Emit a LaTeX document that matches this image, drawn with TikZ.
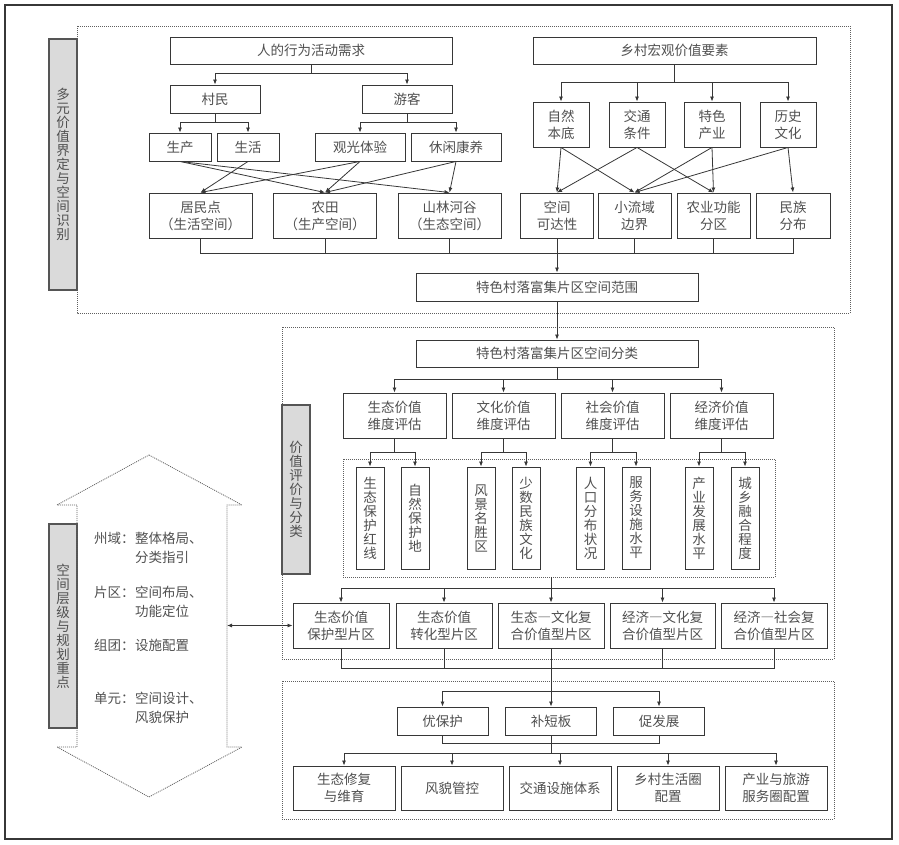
\documentclass[tikz,border=0pt]{standalone}
\usepackage{fontspec}
\setmainfont{Noto Sans CJK SC}
\usepackage{tikz}
\usetikzlibrary{arrows.meta}

\definecolor{txtgray}{RGB}{80,80,80}
\definecolor{linegray}{RGB}{55,55,55}
\definecolor{dotgray}{RGB}{95,95,95}
\definecolor{labelfill}{RGB}{218,218,218}

\newcommand{\cnsize}{\fontsize{13.5}{17}\selectfont}
\newcommand{\cnstack}{\fontsize{13.5}{14}\selectfont}
\newcommand{\cndash}{{\addfontfeature{RawFeature=+fwid}—}}

\tikzset{
  box/.style={draw=linegray,line width=0.9pt,fill=white,text=txtgray,font=\cnsize,align=center,inner sep=0pt},
  vbox/.style={box,font=\cnstack,minimum width=28pt,minimum height=102pt},
  graylabel/.style={draw=linegray!85,line width=1.1pt,fill=labelfill,text=txtgray,font=\cnstack,align=center,inner sep=0pt,minimum width=28pt},
  dotframe/.style={draw=dotgray,line width=0.8pt,dash pattern=on 1pt off 1pt},
  link/.style={draw=linegray,line width=0.8pt},
  arr/.style={link,-{Latex[length=5pt,width=4pt]}},
  dblarr/.style={link,{Latex[length=5pt,width=4pt]}-{Latex[length=5pt,width=4pt]}},
  lefttxt/.style={text=txtgray,font=\fontsize{13.5}{19}\selectfont,inner sep=0pt,align=left},
}

\begin{document}
\begin{tikzpicture}[x=1pt,y=-1pt]
  \useasboundingbox (0,0) rectangle (899,845);
  %outer frame
  \draw[draw=linegray,line width=1.1pt] (5,5) rectangle (892,839);

  %dotted frames
  \draw[dotframe] (77,26) rectangle (850,313);
  \draw[dotframe] (282,327) rectangle (834,659);
  \draw[dotframe] (282,681) rectangle (834,819);
  \node[dotframe,name=indicators,at={(559,518)},minimum width=432pt,minimum height=118pt,inner sep=0pt]{};

  %side labels
  \node[graylabel,name=lab1,at={(63,164.5)},minimum height=251pt]{多\\元\\价\\值\\界\\定\\与\\空\\间\\识\\别};
  \node[graylabel,name=lab2,at={(296,489.5)},minimum height=169pt]{价\\值\\评\\价\\与\\分\\类};
  \node[graylabel,name=lab3,at={(63,626)},minimum height=204pt]{空\\间\\层\\级\\与\\规\\划\\重\\点};

  %top left
  \node[box,name=demand,at={(311,50.5)},minimum width=282pt,minimum height=27pt]{人的行为活动需求};
  \node[box,name=villager,at={(215,99)},minimum width=90pt,minimum height=28pt]{村民};
  \node[box,name=tourist,at={(407,99)},minimum width=90pt,minimum height=28pt]{游客};
  \node[box,name=prod,at={(180,147)},minimum width=62pt,minimum height=28pt]{生产};
  \node[box,name=life,at={(248,147)},minimum width=62pt,minimum height=28pt]{生活};
  \node[box,name=sight,at={(360,147)},minimum width=90pt,minimum height=28pt]{观光体验};
  \node[box,name=leisure,at={(456,147)},minimum width=90pt,minimum height=28pt]{休闲康养};
  \node[box,name=settle,at={(200.5,215.5)},minimum width=103pt,minimum height=45pt]{居民点\\（生活空间）};
  \node[box,name=farm,at={(325,215.5)},minimum width=103pt,minimum height=45pt]{农田\\（生产空间）};
  \node[box,name=forest,at={(449.5,215.5)},minimum width=103pt,minimum height=45pt]{山林河谷\\（生态空间）};

  %top right
  \node[box,name=macro,at={(674.5,50.5)},minimum width=283pt,minimum height=27pt]{乡村宏观价值要素};
  \node[box,name=nature,at={(561,124.5)},minimum width=56pt,minimum height=45pt]{自然\\本底};
  \node[box,name=traffic,at={(637,124.5)},minimum width=56pt,minimum height=45pt]{交通\\条件};
  \node[box,name=industry,at={(712,124.5)},minimum width=56pt,minimum height=45pt]{特色\\产业};
  \node[box,name=history,at={(788,124.5)},minimum width=56pt,minimum height=45pt]{历史\\文化};
  \node[box,name=access,at={(557,215.5)},minimum width=73pt,minimum height=45pt]{空间\\可达性};
  \node[box,name=basin,at={(634.5,215.5)},minimum width=73pt,minimum height=45pt]{小流域\\边界};
  \node[box,name=agri,at={(713.5,215.5)},minimum width=73pt,minimum height=45pt]{农业功能\\分区};
  \node[box,name=ethnic,at={(793,215.5)},minimum width=74pt,minimum height=45pt]{民族\\分布};
  \node[box,name=range,at={(557,287)},minimum width=282pt,minimum height=28pt]{特色村落富集片区空间范围};

  %top connectors
  \draw[arr] (demand.south) -- ++(0,9) -| (villager.north);
  \draw[arr] (demand.south) -- ++(0,9) -| (tourist.north);
  \draw[arr] (villager.south) -- ++(0,9) -| (prod.north);
  \draw[arr] (villager.south) -- ++(0,9) -| (life.north);
  \draw[arr] (tourist.south) -- ++(0,9) -| (sight.north);
  \draw[arr] (tourist.south) -- ++(0,9) -| (leisure.north);
  \draw[arr] (prod.south) -- (farm.north);
  \draw[arr] (prod.south) -- (forest.north);
  \draw[arr] (life.south) -- (settle.north);
  \draw[arr] (sight.south) -- (settle.north);
  \draw[arr] (sight.south) -- (farm.north);
  \draw[arr] (leisure.south) -- (farm.north);
  \draw[arr] (leisure.south) -- (forest.north);
  \draw[arr] (macro.south) -- ++(0,18) -| (nature.north);
  \draw[arr] (macro.south) -- ++(0,18) -| (traffic.north);
  \draw[arr] (macro.south) -- ++(0,18) -| (industry.north);
  \draw[arr] (macro.south) -- ++(0,18) -| (history.north);
  \draw[arr] (nature.south) -- (access.north);
  \draw[arr] (nature.south) -- (basin.north);
  \draw[arr] (traffic.south) -- (access.north);
  \draw[arr] (traffic.south) -- (agri.north);
  \draw[arr] (industry.south) -- (basin.north);
  \draw[arr] (industry.south) -- (agri.north);
  \draw[arr] (history.south) -- (basin.north);
  \draw[arr] (history.south) -- (ethnic.north);
  \draw[link] (settle.south) -- ++(0,15) -| (ethnic.south);
  \draw[link] (farm.south) -- ++(0,15);
  \draw[link] (forest.south) -- ++(0,15);
  \draw[link] (basin.south) -- ++(0,15);
  \draw[link] (agri.south) -- ++(0,15);
  \draw[arr] (access.south) -- (range.north);

  %middle
  \node[box,name=class,at={(557,353.5)},minimum width=282pt,minimum height=27pt]{特色村落富集片区空间分类};
  \node[box,name=eco,at={(394.5,415.5)},minimum width=103pt,minimum height=45pt]{生态价值\\维度评估};
  \node[box,name=cult,at={(503.5,415.5)},minimum width=103pt,minimum height=45pt]{文化价值\\维度评估};
  \node[box,name=soc,at={(612.5,415.5)},minimum width=103pt,minimum height=45pt]{社会价值\\维度评估};
  \node[box,name=econ,at={(721.5,415.5)},minimum width=103pt,minimum height=45pt]{经济价值\\维度评估};
  \node[vbox,name=redline,at={(370,518)}]{生\\态\\保\\护\\红\\线};
  \node[vbox,name=reserve,at={(415,518)}]{自\\然\\保\\护\\地};
  \node[vbox,name=scenic,at={(481,518)}]{风\\景\\名\\胜\\区};
  \node[vbox,name=minority,at={(526,518)}]{少\\数\\民\\族\\文\\化};
  \node[vbox,name=popu,at={(590.5,518)}]{人\\口\\分\\布\\状\\况};
  \node[vbox,name=service,at={(636,518)}]{服\\务\\设\\施\\水\\平};
  \node[vbox,name=indus,at={(699,518)}]{产\\业\\发\\展\\水\\平};
  \node[vbox,name=urban,at={(745,518)}]{城\\乡\\融\\合\\程\\度};
  \node[box,name=t1,at={(341,625.5)},minimum width=96pt,minimum height=45pt]{生态价值\\保护型片区};
  \node[box,name=t2,at={(444,625.5)},minimum width=96pt,minimum height=45pt]{生态价值\\转化型片区};
  \node[box,name=t3,at={(551,625.5)},minimum width=106pt,minimum height=45pt]{生态\cndash 文化复\\合价值型片区};
  \node[box,name=t4,at={(662.5,625.5)},minimum width=105pt,minimum height=45pt]{经济\cndash 文化复\\合价值型片区};
  \node[box,name=t5,at={(774,625.5)},minimum width=106pt,minimum height=45pt]{经济\cndash 社会复\\合价值型片区};

  %middle connectors
  \draw[arr] (range.south) -- (class.north);
  \draw[arr] (class.south) -- ++(0,11.5) -| (eco.north);
  \draw[arr] (class.south) -- ++(0,11.5) -| (cult.north);
  \draw[arr] (class.south) -- ++(0,11.5) -| (soc.north);
  \draw[arr] (class.south) -- ++(0,11.5) -| (econ.north);
  \draw[arr] (eco.south) -- ++(0,14) -| (redline.north);
  \draw[arr] (eco.south) -- ++(0,14) -| (reserve.north);
  \draw[arr] (cult.south) -- ++(0,14) -| (scenic.north);
  \draw[arr] (cult.south) -- ++(0,14) -| (minority.north);
  \draw[arr] (soc.south) -- ++(0,14) -| (popu.north);
  \draw[arr] (soc.south) -- ++(0,14) -| (service.north);
  \draw[arr] (econ.south) -- ++(0,14) -| (indus.north);
  \draw[arr] (econ.south) -- ++(0,14) -| (urban.north);
  \draw[arr] (indicators.south -| t3.north) -- ++(0,11) -| (t1.north);
  \draw[arr] (indicators.south -| t3.north) -- ++(0,11) -| (t2.north);
  \draw[arr] (indicators.south -| t3.north) -- (t3.north);
  \draw[arr] (indicators.south -| t3.north) -- ++(0,11) -| (t4.north);
  \draw[arr] (indicators.south -| t3.north) -- ++(0,11) -| (t5.north);

  %left arrow
  \draw[dotframe] (149,455) -- (242,505) -- (227,505) -- (227,747) -- (242,747) -- (149,797)
    -- (57,747) -- (77,747) -- (77,505) -- (57,505) -- cycle;
  \coordinate (arrowedge) at (227,625.5);
  \node[lefttxt,anchor=west,name=zhou,at={(94,538)}]{州域：};
  \node[lefttxt,anchor=north west,name=zhoutxt,at={(zhou.north east)}]{整体格局、\\分类指引};
  \node[lefttxt,anchor=west,name=pian,at={(94,592)}]{片区：};
  \node[lefttxt,anchor=north west,name=piantxt,at={(pian.north east)}]{空间布局、\\功能定位};
  \node[lefttxt,anchor=west,name=zu,at={(94,645)}]{组团：};
  \node[lefttxt,anchor=north west,name=zutxt,at={(zu.north east)}]{设施配置};
  \node[lefttxt,anchor=west,name=dan,at={(94,698)}]{单元：};
  \node[lefttxt,anchor=north west,name=dantxt,at={(dan.north east)}]{空间设计、\\风貌保护};
  \draw[dblarr] (arrowedge) -- (t1.west);

  %bottom
  \node[box,name=p1,at={(442.5,721)},minimum width=91pt,minimum height=28pt]{优保护};
  \node[box,name=p2,at={(551,721)},minimum width=91pt,minimum height=28pt]{补短板};
  \node[box,name=p3,at={(659,721)},minimum width=91pt,minimum height=28pt]{促发展};
  \node[box,name=b1,at={(344,788)},minimum width=102pt,minimum height=44pt]{生态修复\\与维育};
  \node[box,name=b2,at={(452,788)},minimum width=102pt,minimum height=44pt]{风貌管控};
  \node[box,name=b3,at={(560,788)},minimum width=102pt,minimum height=44pt]{交通设施体系};
  \node[box,name=b4,at={(668,788)},minimum width=102pt,minimum height=44pt]{乡村生活圈\\配置};
  \node[box,name=b5,at={(776,788)},minimum width=102pt,minimum height=44pt]{产业与旅游\\服务圈配置};

  %bottom connectors
  \draw[link] (t1.south) -- ++(0,20) -| (t5.south);
  \draw[link] (t2.south) -- ++(0,20);
  \draw[link] (t4.south) -- ++(0,20);
  \draw[arr] (t3.south) -- (p2.north);
  \draw[arr] (p2.north) ++(0,-15) -| (p1.north);
  \draw[arr] (p2.north) ++(0,-15) -| (p3.north);
  \draw[link] (p1.south) -- ++(0,8) -| (p3.south);
  \draw[arr] (p2.south) -- ++(0,18) -| (b1.north);
  \draw[arr] (p2.south) -- ++(0,18) -| (b2.north);
  \draw[arr] (p2.south) -- ++(0,18) -| (b3.north);
  \draw[arr] (p2.south) -- ++(0,18) -| (b4.north);
  \draw[arr] (p2.south) -- ++(0,18) -| (b5.north);
\end{tikzpicture}
\end{document}
